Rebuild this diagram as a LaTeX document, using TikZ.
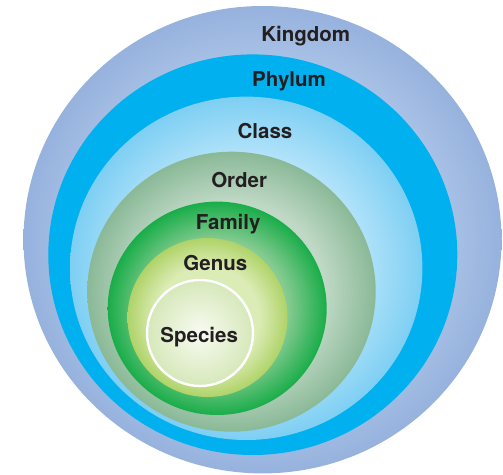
\documentclass[tikz,border=0pt]{standalone}
\usepackage{fontspec}
\newfontfamily\rankfont{TeX Gyre Heros}
\usetikzlibrary{positioning}

\definecolor{labeltext}{HTML}{231F20}
\definecolor{kingdomin}{HTML}{B4CAEB}
\definecolor{kingdomout}{HTML}{96B2DD}
\definecolor{phylumfill}{HTML}{00B0EF}
\definecolor{classin}{HTML}{B6E4FA}
\definecolor{classout}{HTML}{7ECFF3}
\definecolor{orderin}{HTML}{C0D9C6}
\definecolor{orderout}{HTML}{8AB997}
\definecolor{familyin}{HTML}{86CB92}
\definecolor{familyout}{HTML}{19AD49}
\definecolor{genusin}{HTML}{DCECB6}
\definecolor{genusout}{HTML}{AFD368}
\definecolor{speciesin}{HTML}{F8FBF1}
\definecolor{speciesout}{HTML}{D6E8BA}

\colorlet{ringin}{white}
\colorlet{ringout}{black}
\pgfdeclareradialshading[ringin,ringout]{ringshade}{\pgfpoint{0bp}{0bp}}{color(0bp)=(ringin); color(16bp)=(ringin); color(25bp)=(ringout); color(50bp)=(ringout)}

\begin{document}
\begin{tikzpicture}[x=1pt,y=-1pt,
    rank/.style={font=\rankfont\bfseries\fontsize{20.5}{24}\selectfont,
      text=labeltext,anchor=base,inner sep=0pt},
    ring/.style 2 args={/utils/exec={\colorlet{ringin}{#1}\colorlet{ringout}{#2}},
      shading=ringshade}]
	
	\useasboundingbox (0,0) rectangle (503,474);
	
	% Nested ranks, outermost first
	\shade[ring={kingdomin}{kingdomout}] (262.5,239.7) ellipse [x radius=239pt,y radius=233.7pt];
	\fill[phylumfill] (252.8,254.7) ellipse [x radius=204.5pt,y radius=200.3pt];
	\shade[ring={classin}{classout}] (246.2,268.3) ellipse [x radius=176.2pt,y radius=171.7pt];
	\shade[ring={orderin}{orderout}] (231.5,291.7) ellipse [x radius=144.2pt,y radius=140pt];
	\shade[ring={familyin}{familyout}] (217.2,308.3) ellipse [x radius=109.5pt,y radius=106.7pt];
	\shade[ring={genusin}{genusout}] (207.5,317.5) ellipse [x radius=80pt,y radius=79.5pt];
	
	% Species, with its white rim
	\shade[inner color=speciesin,outer color=speciesout] (200,333) circle [radius=53pt];
	\draw[white,line width=2.4pt] (200,333) circle [radius=53pt];
	
	% Rank names
	\node[rank] (kingdom) at (305.7,41.6) {Kingdom};
	\node[rank] (phylum) at (289,86.2) {Phylum};
	\node[rank] (class) at (265,138.8) {Class};
	\node[rank] (order) at (239.2,187.3) {Order};
	\node[rank] (family) at (228.2,229.3) {Family};
	\node[rank] (genus) at (215.3,270.6) {Genus};
	\node[rank] (species) at (199.2,342.6) {Species};
	
\end{tikzpicture}
\end{document}
